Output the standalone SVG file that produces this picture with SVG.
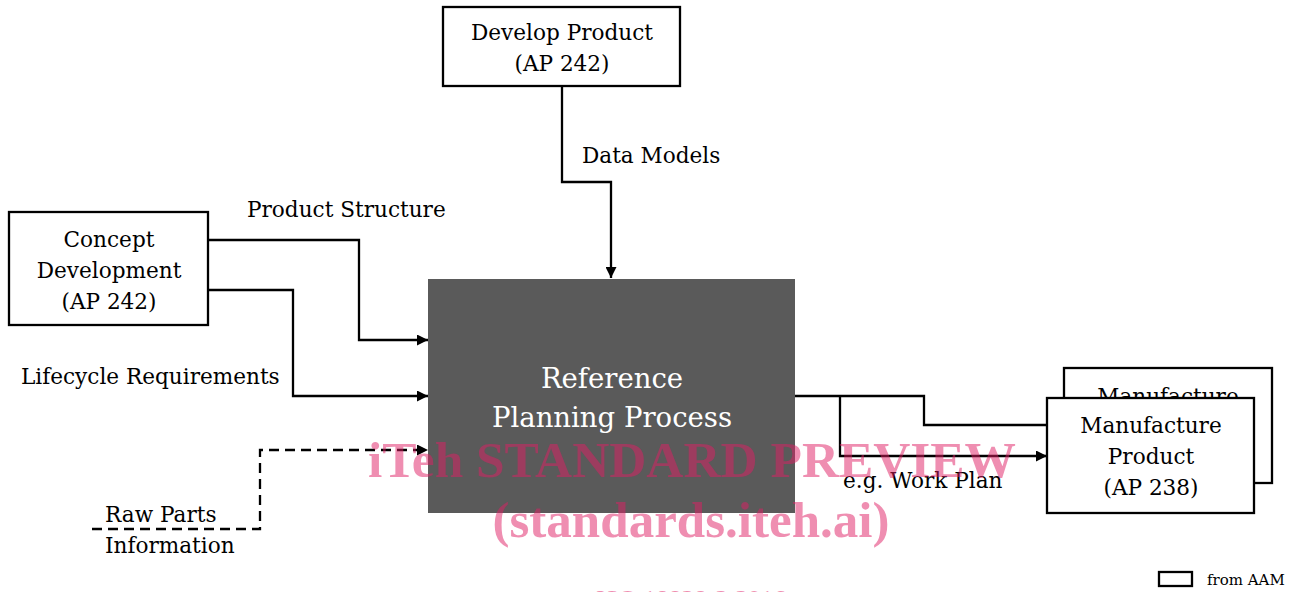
<svg xmlns="http://www.w3.org/2000/svg" width="1294" height="592" viewBox="0 0 1294 592">
<defs>
<style>
.box{fill:#fff;stroke:#000;stroke-width:2.3}
.lbl{font-family:"DejaVu Serif","Liberation Serif",serif;font-size:21.6px;fill:#000}
.mid{text-anchor:middle}
.con{fill:none;stroke:#000;stroke-width:2.3}
.wm{font-family:"Liberation Serif",serif;font-weight:bold;fill:#e01e64;fill-opacity:0.5;text-anchor:middle}
</style>
<marker id="arr" viewBox="0 0 10 10" refX="10" refY="5" markerWidth="11" markerHeight="11" markerUnits="userSpaceOnUse" orient="auto">
<path d="M0,0 L10,5 L0,10 z" fill="#000"/>
</marker>
</defs>
<rect width="1294" height="592" fill="#fff"/>

<g id="connectors">
<polyline class="con" points="562,86 562,182 611,182 611,278" marker-end="url(#arr)"/>
<polyline class="con" points="208,240 359,240 359,340 428,340" marker-end="url(#arr)"/>
<polyline class="con" points="208,290 293,290 293,396 428,396" marker-end="url(#arr)"/>
<polyline class="con" points="92,529 260,529 260,450 428,450" stroke-dasharray="10,6" marker-end="url(#arr)"/>
<polyline class="con" points="795,396 924,396 924,425 1047,425"/>
<polyline class="con" points="840,396 840,456 1047,456" marker-end="url(#arr)"/>
<text class="lbl" x="582" y="163">Data Models</text>
<text class="lbl" x="247" y="217">Product Structure</text>
<text class="lbl" x="21" y="384">Lifecycle Requirements</text>
<text class="lbl" x="105" y="522">Raw Parts</text>
<text class="lbl" x="105" y="553">Information</text>
<text class="lbl" x="843" y="488">e.g. Work Plan</text>
</g>

<g id="develop-product">
<rect class="box" x="443" y="7" width="237" height="79"/>
<text class="lbl mid" x="562" y="40">Develop Product</text>
<text class="lbl mid" x="562" y="71">(AP 242)</text>
</g>

<g id="concept-development">
<rect class="box" x="9" y="212" width="199" height="113"/>
<text class="lbl mid" x="109" y="247">Concept</text>
<text class="lbl mid" x="109" y="278">Development</text>
<text class="lbl mid" x="109" y="309">(AP 242)</text>
</g>

<g id="reference-planning">
<rect x="428" y="279" width="367" height="234" fill="#5a5a5a"/>
<text class="lbl mid" x="612" y="388" style="font-size:27.5px;fill:#fff">Reference</text>
<text class="lbl mid" x="612" y="427" style="font-size:27.5px;fill:#fff">Planning Process</text>
</g>

<g id="manufacture-product-back">
<rect class="box" x="1064" y="368" width="208" height="115"/>
<text class="lbl mid" x="1168" y="404">Manufacture</text>
</g>

<g id="manufacture-product">
<rect class="box" x="1047" y="398" width="207" height="115"/>
<text class="lbl mid" x="1151" y="433">Manufacture</text>
<text class="lbl mid" x="1151" y="464">Product</text>
<text class="lbl mid" x="1151" y="495">(AP 238)</text>
</g>

<g id="legend">
<rect class="box" x="1159" y="572" width="33" height="14"/>
<text class="lbl" x="1207" y="585" style="font-size:15px">from AAM</text>
</g>

<g id="watermark">
<text class="wm" x="692" y="477" style="font-size:51px" textLength="648" lengthAdjust="spacingAndGlyphs">iTeh STANDARD PREVIEW</text>
<text class="wm" x="691" y="537" style="font-size:51px" textLength="397" lengthAdjust="spacingAndGlyphs">(standards.iteh.ai)</text>
<text class="wm" x="691" y="606" style="font-size:24px;font-weight:normal" textLength="190" lengthAdjust="spacingAndGlyphs">ISO 18828-2:2016</text>
</g>
</svg>
